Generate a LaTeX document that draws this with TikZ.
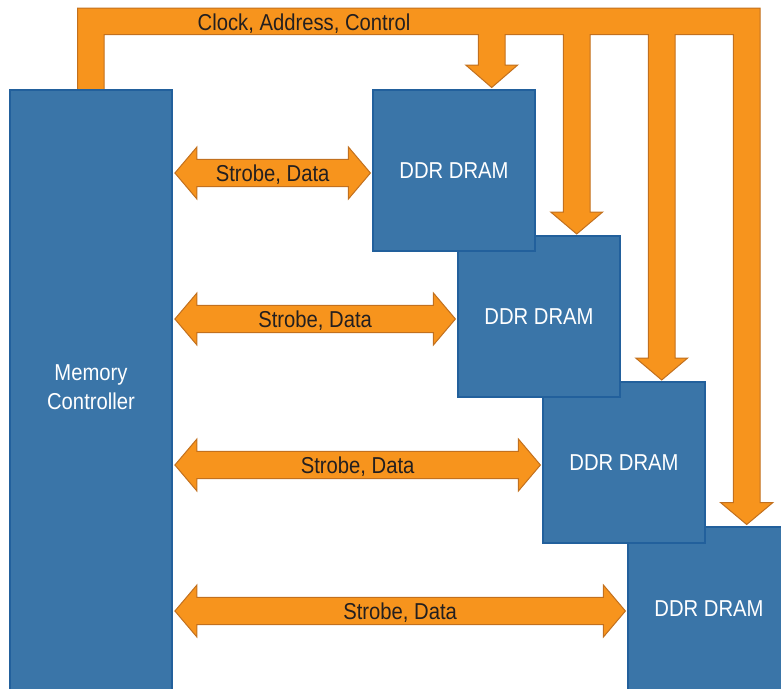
\documentclass[tikz,border=0pt]{standalone}
\usepackage{fontspec}
\setmainfont[FakeStretch=0.88]{Liberation Sans}
\usetikzlibrary{calc}
\definecolor{bluefill}{HTML}{3A75A8}
\definecolor{blueline}{HTML}{22609C}
\definecolor{orfill}{HTML}{F7941D}
\definecolor{orline}{HTML}{C2701E}
\definecolor{txt}{HTML}{231F20}
\begin{document}
\begin{tikzpicture}[x=1pt,y=-1pt,
  box/.style={draw=blueline,fill=bluefill,line width=1.2pt,text=white,
    font=\fontsize{23}{29.3}\selectfont,inner sep=0pt,align=center,
    minimum width=162pt,minimum height=161pt},
  bus/.style={draw=orline,fill=orfill,line width=1pt,line join=miter},
  lbl/.style={text=txt,font=\fontsize{23}{28}\selectfont,inner sep=0pt,anchor=base}]
\useasboundingbox (0,0) rectangle (781,688);
\begin{scope}
\clip (0,0) rectangle (781,688);
% control bus
\draw[bus] (77.5,89.5) -- (77.5,8) -- (760,8) -- (760,502.7)
  -- (772.7,502.7) -- (746.7,524.5) -- (720.7,502.7) -- (733.3,502.7)
  -- (733.3,34.7) -- (675,34.7) -- (675,358)
  -- (687.7,358) -- (661.7,380) -- (635.7,358) -- (648.3,358)
  -- (648.3,34.7) -- (590,34.7) -- (590,212)
  -- (602.7,212) -- (576.7,234) -- (550.7,212) -- (563.3,212)
  -- (563.3,34.7) -- (505,34.7) -- (505,65)
  -- (517.7,65) -- (491.7,87.5) -- (465.7,65) -- (478.3,65)
  -- (478.3,34.7) -- (104,34.7) -- (104,89.5) -- cycle;
\node[lbl] (cac) at (304,30.7) {Clock, Address, Control};
% DRAMs (drawn back to front)
\node[box,minimum height=163pt] (d4) at (709,608.5) {DDR DRAM};
\node[box] (d3) at (624,462.5) {DDR DRAM};
\node[box] (d2) at (539,316.5) {DDR DRAM};
\node[box] (d1) at (454,170.5) {DDR DRAM};
% memory controller
\node[box,minimum height=602pt] (mc) at (91,391) {};
\node[text=white,font=\fontsize{23}{29.3}\selectfont,inner sep=0pt,align=center,anchor=base]
  (mct) at (91,409.3) {Memory\\Controller};
% data arrows
\foreach \d/\n in {d1/1,d2/2,d3/3,d4/4}{
  \coordinate (L\n) at ($(mc.east |- \d.west)+(2.3,2.5)$);
  \coordinate (R\n) at ($(\d.west)+(-2,2.5)$);
  \draw[bus] (L\n) -- ($(L\n)+(22,-26)$) -- ($(L\n)+(22,-13.7)$)
    -- ($(R\n)+(-22,-13.7)$) -- ($(R\n)+(-22,-26)$) -- (R\n)
    -- ($(R\n)+(-22,26)$) -- ($(R\n)+(-22,13.7)$)
    -- ($(L\n)+(22,13.7)$) -- ($(L\n)+(22,26)$) -- cycle;
  \node[lbl] (sd\n) at ($(L\n)!0.5!(R\n)+(0,8.5)$) {Strobe, Data};
}
\end{scope}
\end{tikzpicture}
\end{document}
